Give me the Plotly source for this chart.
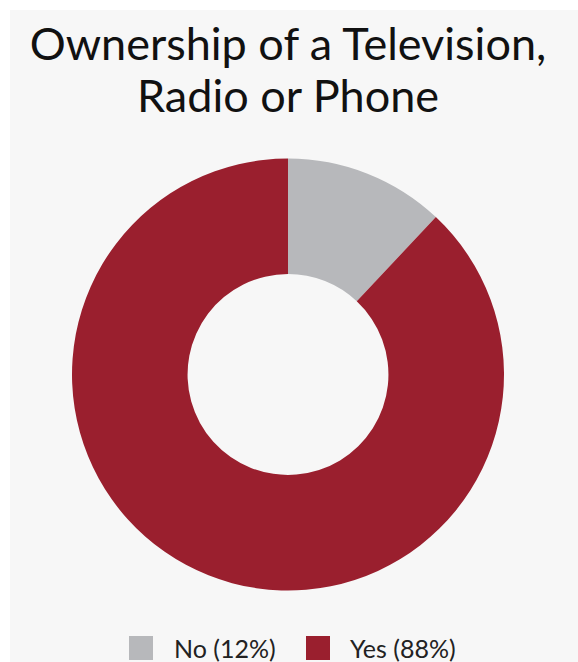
import plotly.graph_objects as go

categories = ["No", "Yes"]
values = [12, 88]
colors = ["#b7b8bb", "#9a1f2e"]
title_lines = ["Ownership of a Television,", "Radio or Phone"]

labels = [f"{c} ({v}%)" for c, v in zip(categories, values)]

W, H = 578, 662
L, T = 10, 10
PW, PH = W - L, H - T


def px(x):
    return (x - L) / PW


def py(y):
    return (H - y) / PH


fig = go.Figure(go.Pie(
    labels=labels,
    values=values,
    marker=dict(colors=colors, line=dict(width=0)),
    hole=0.465,
    sort=False,
    direction="clockwise",
    rotation=0,
    textinfo="none",
    hoverinfo="label",
    showlegend=False,
    domain=dict(x=[px(72), px(504)], y=[py(591), py(158)]),
))

shapes = [dict(type="rect", xref="paper", yref="paper", x0=0, x1=1, y0=0, y1=1,
               fillcolor="#f7f7f7", line=dict(width=0), layer="below")]
annotations = [dict(text=title_lines[1], xref="paper", yref="paper",
                    x=px(288), y=py(95), xanchor="center", yanchor="middle",
                    showarrow=False, font=dict(family="Lato", size=45, color="#111111"))]

# custom legend (large square swatches)
swatch_x = [129, 306]
text_x = [172, 348]
sw = 24
cy = 648
for lab, col, sx, tx in zip(labels, colors, swatch_x, text_x):
    shapes.append(dict(type="rect", xref="paper", yref="paper",
                       x0=px(sx), x1=px(sx + sw), y0=py(cy + sw / 2), y1=py(cy - sw / 2),
                       fillcolor=col, line=dict(width=0)))
    annotations.append(dict(text=lab, xref="paper", yref="paper", x=px(tx), y=py(cy),
                            xanchor="left", yanchor="middle", showarrow=False,
                            font=dict(family="Lato", size=25, color="#222222")))

fig.update_layout(
    width=W, height=H,
    margin=dict(l=L, r=0, t=T, b=0, pad=0),
    paper_bgcolor="white",
    font=dict(family="Lato", color="#111111"),
    title=dict(
        text=title_lines[0],
        font=dict(family="Lato", size=45, color="#111111"),
        x=288 / W, xanchor="center", xref="container",
        y=1 - 44 / H, yanchor="middle", yref="container",
    ),
    shapes=shapes,
    annotations=annotations,
    showlegend=False,
)

fig.write_html("out.html", config={"displayModeBar": False},
               post_script="document.body.style.margin='0';document.body.style.overflow='hidden';")
